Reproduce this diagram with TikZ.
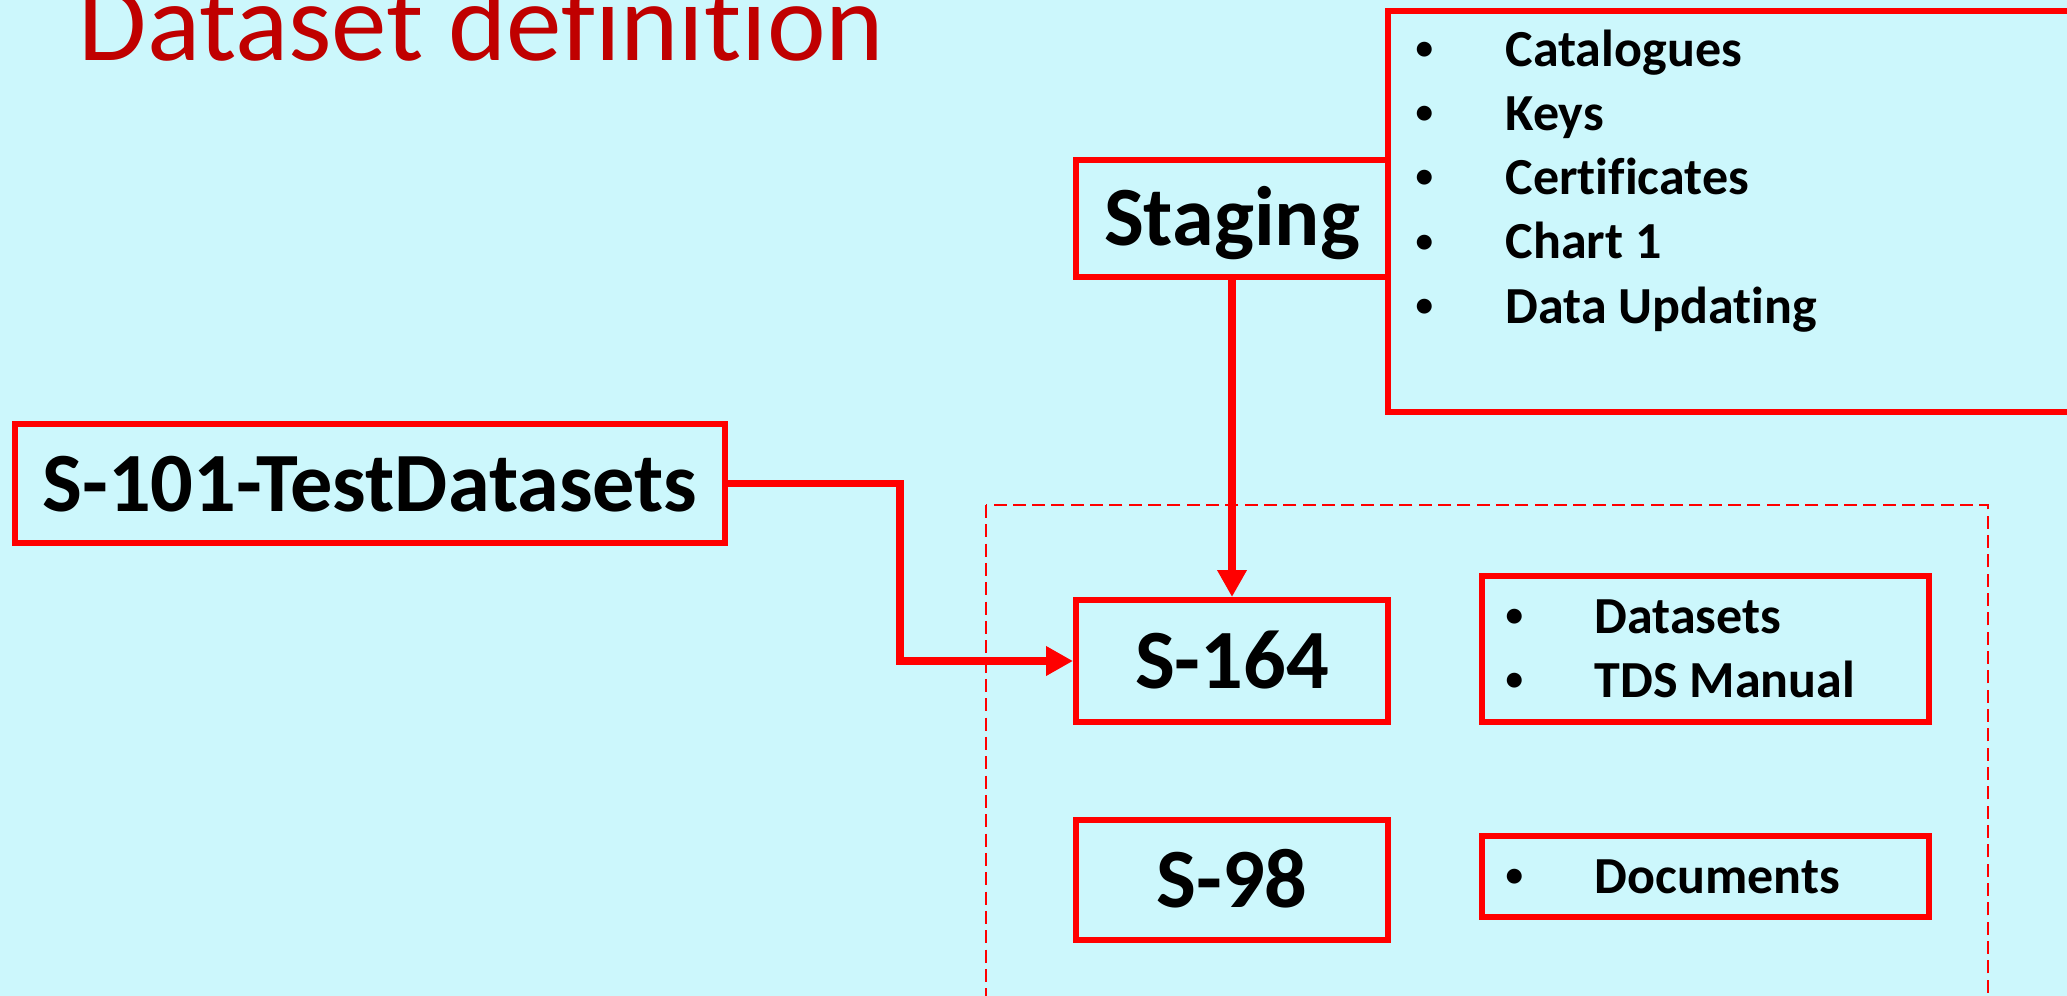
\documentclass[tikz,border=0pt]{standalone}
\usepackage{fontspec}
\setmainfont[RawFeature={-liga}]{Carlito}
\usetikzlibrary{arrows.meta}
\definecolor{bgcyan}{RGB}{204,247,252}
\definecolor{boxred}{RGB}{255,0,0}
\definecolor{titlered}{RGB}{192,0,0}
\newcommand{\dotitem}[1]{\makebox[#1][l]{\raisebox{0.07cm}{\fontsize{10}{10}\selectfont•}}}

\begin{document}
\begin{tikzpicture}[
    bigbox/.style={draw=boxred, line width=1.7pt, inner sep=0pt, text height=0.55cm, text depth=0pt,
                   font=\fontsize{24}{29}\selectfont\bfseries},
    listbox/.style={draw=boxred, line width=1.7pt, inner sep=0pt},
    item/.style={anchor=base west, inner sep=0pt, font=\fontsize{14.8}{18}\selectfont\bfseries},
    link/.style={draw=boxred, line width=2.2pt, -{Triangle[length=0.27cm, width=0.28cm]}}]
      \clip (0, 0) rectangle (20.67, -9.96);
      \fill[bgcyan] (0, 0) rectangle (20.67, -9.96);
      \node (title) [anchor=base west, inner sep=0pt, text=titlered, font=\fontsize{31.6}{38}\selectfont]
            at (0.78, -0.61) {Dataset definition};
      % boxes
      \draw[red, line width=0.8pt, dash pattern=on 3.7pt off 1.8pt] (9.86, -5.05) rectangle (19.88, -10.5);
      \node (staging) [bigbox, minimum width=3.12cm, minimum height=1.17cm] at (12.32, -2.185) {Staging};
      \node (stglist) [listbox, minimum width=7.12cm, minimum height=4.01cm] at (17.44, -2.115) {};
      \node (s101) [bigbox, minimum width=7.10cm, minimum height=1.19cm] at (3.70, -4.835) {S-101-TestDatasets};
      \node (s164) [bigbox, minimum width=3.12cm, minimum height=1.22cm] at (12.32, -6.61) {S-164};
      \node (s98) [bigbox, minimum width=3.12cm, minimum height=1.20cm] at (12.32, -8.80) {S-98};
      \node (s164list) [listbox, minimum width=4.47cm, minimum height=1.46cm] at (17.055, -6.49) {};
      \node (s98list) [listbox, minimum width=4.47cm, minimum height=0.81cm] at (17.055, -8.765) {};
      % list texts
      \node (cat) [item] at (14.15, -0.67) {\dotitem{0.90cm}Catalogues};
      \node (keys) [item] at (14.15, -1.31) {\dotitem{0.90cm}Keys};
      \node (cert) [item] at (14.15, -1.95) {\dotitem{0.90cm}Certificates};
      \node (chart) [item] at (14.15, -2.59) {\dotitem{0.90cm}Chart 1};
      \node (upd) [item] at (14.15, -3.23) {\dotitem{0.90cm}Data Updating};
      \node (dsets) [item] at (15.05, -6.33) {\dotitem{0.89cm}Datasets};
      \node (tds) [item] at (15.05, -6.97) {\dotitem{0.89cm}TDS Manual};
      \node (docs) [item] at (15.05, -8.93) {\dotitem{0.89cm}Documents};
      % connectors
      \coordinate (bend) at (9.00, -6.61);
      \draw[link] (s101.east) -| (bend) -- (s164.west);
      \draw[link] (staging.south) -- (staging.south |- s164.north);
\end{tikzpicture}
\end{document}
